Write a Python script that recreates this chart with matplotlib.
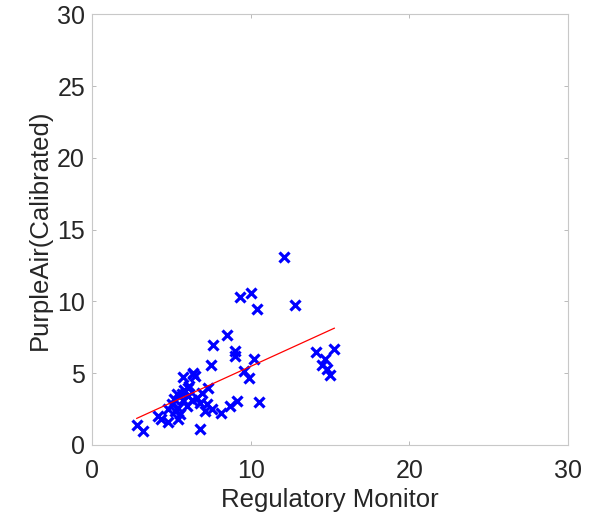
import numpy as np
import matplotlib.pyplot as plt

# valeurs
monitor = [2.82, 3.23, 4.18, 4.35, 4.81, 4.77, 5.02, 5.23, 5.44, 5.55, 5.44,
           5.34, 5.65, 5.75, 6.07, 5.96, 6.28, 6.60, 6.91, 7.33, 5.75, 6.39,
           6.07, 6.14, 6.34, 6.49, 6.80, 7.12, 7.23, 7.54, 6.80, 7.48, 7.64,
           8.49, 9.01, 9.01, 9.33, 10.02, 10.42, 12.08, 12.79, 10.20, 9.58,
           9.92, 9.15, 10.54, 8.69, 8.13, 14.11, 15.27, 14.69, 14.50, 14.78,
           14.98, 5.14, 5.82]
purpleair = [1.40, 0.98, 2.02, 1.79, 1.63, 2.49, 2.84, 2.37, 2.60, 2.14, 1.79,
             3.54, 3.54, 3.12, 4.00, 2.72, 3.12, 3.30, 3.65, 4.00, 4.75, 4.93,
             3.42, 4.12, 5.05, 4.80, 2.95, 2.37, 2.84, 2.53, 1.09, 5.58, 6.98,
             7.65, 6.56, 6.20, 10.28, 10.58, 9.47, 13.07, 9.77, 5.98, 5.16,
             4.70, 3.07, 3.00, 2.72, 2.20, 6.50, 6.70, 6.00, 5.60, 5.30,
             4.90, 3.20, 3.80]

x = np.array(monitor)
y = np.array(purpleair)
a, b = np.polyfit(x, y, 1)
xl = np.array([x.min(), x.max()])

plt.rcParams['font.family'] = ['Liberation Sans', 'DejaVu Sans']

fig = plt.figure(figsize=(6.03, 5.16), dpi=100)
ax = fig.add_axes([0.1526, 0.1376, 0.7894, 0.8343])

ax.plot(x, y, 'x', color='#0000ff', markersize=7, markeredgewidth=2.3)
ax.plot(xl, a * xl + b, '-', color='#ff0000', linewidth=0.9)

ax.set_xlim(0, 30)
ax.set_ylim(0, 30)
ax.set_xticks([0, 10, 20, 30])
ax.set_yticks([0, 5, 10, 15, 20, 25, 30])
ax.tick_params(direction='in', length=3, width=0.6, color='#b0b0b0',
               labelsize=18, labelcolor='#262626', top=True, right=True)
ax.tick_params(axis='x', pad=10)
ax.tick_params(axis='y', pad=5)
for s in ax.spines.values():
    s.set_color('#c8c8c8')
    s.set_linewidth(0.8)

ax.set_xlabel('Regulatory Monitor', fontsize=18.5, color='#262626', labelpad=4)
ax.set_ylabel('PurpleAir(Calibrated)', fontsize=18.5, color='#262626', labelpad=4)

fig.savefig('out.png', dpi=100)
